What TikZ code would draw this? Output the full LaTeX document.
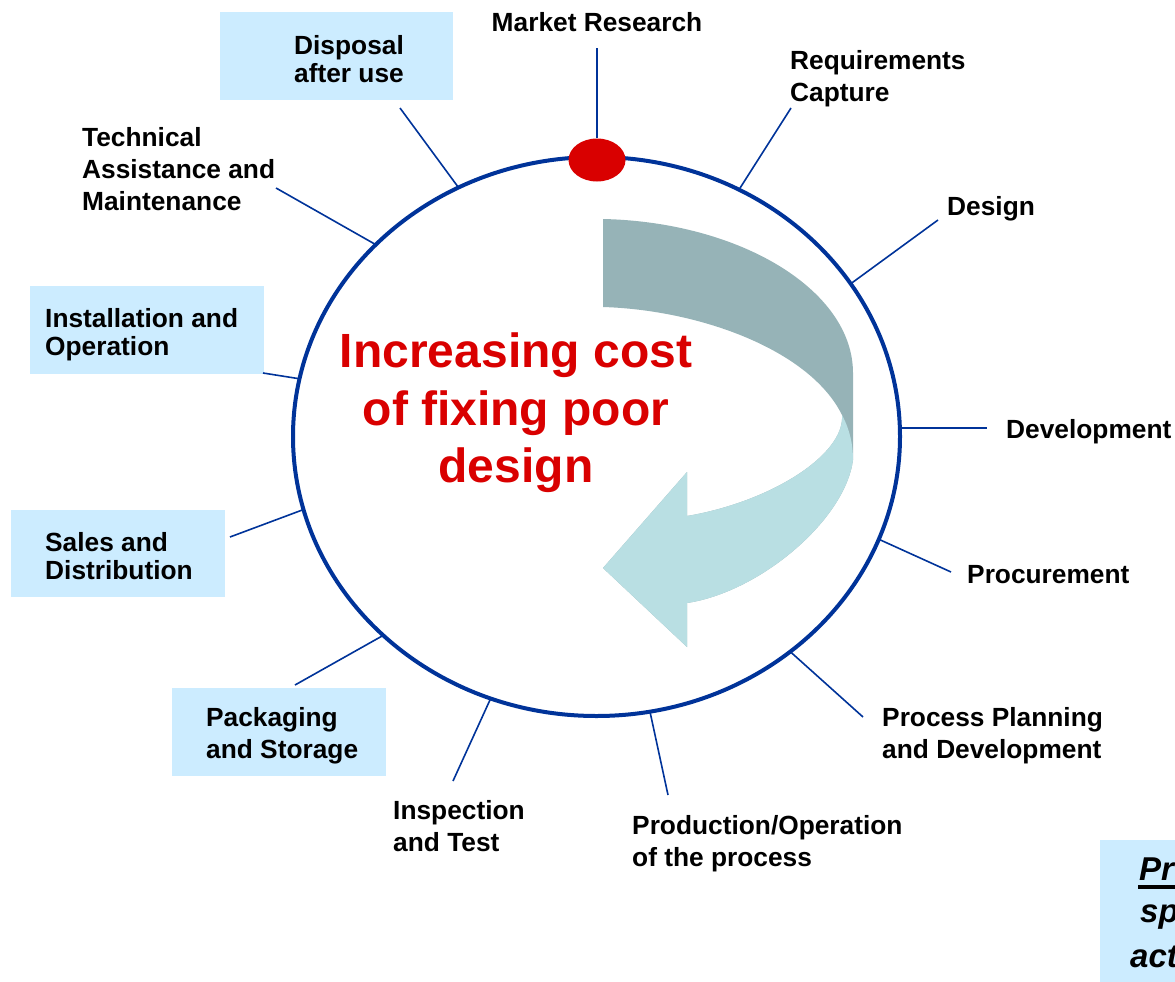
\documentclass[tikz,border=0pt]{standalone}
\usepackage{fontspec}
\setmainfont{Liberation Sans}
\usetikzlibrary{shapes.geometric}

\definecolor{ringblue}{RGB}{0,51,153}
\definecolor{costred}{RGB}{217,0,0}
\definecolor{boxblue}{RGB}{204,236,255}
\definecolor{arrowdark}{RGB}{150,179,183}
\definecolor{arrowlight}{RGB}{185,223,227}

\begin{document}
\begin{tikzpicture}[x=1pt, y=-1pt,
    stage/.style={anchor=north west, inner sep=0pt, align=left, font=\bfseries\fontsize{26.3}{32}\selectfont},
    tight/.style={font=\bfseries\fontsize{26.3}{28.5}\selectfont},
    stagebox/.style={fill=boxblue},
    spoke/.style={draw=ringblue, line width=1.6pt},
    note/.style={anchor=base west, inner sep=0pt, font=\bfseries\itshape\fontsize{33}{44}\selectfont}]
\useasboundingbox (0,0) rectangle (1175,982);
\clip (0,0) rectangle (1175,982);

% curved arrow: back half, then the front half over it
\fill[arrowdark] (603,219) .. controls (740,222) and (853,290) .. (853,373) -- (853,460)
    .. controls (845,520) and (760,592) .. (687,603) -- (687,647) -- (603,568) -- (687,472) -- (687,516)
    .. controls (770,502) and (845,455) .. (842,415) .. controls (810,350) and (700,310) .. (603,307) -- cycle;
\fill[arrowlight] (842,415) .. controls (850,430) and (853,445) .. (853,460)
    .. controls (845,520) and (760,592) .. (687,603) -- (687,647) -- (603,568) -- (687,472) -- (687,516)
    .. controls (770,502) and (845,455) .. (842,415) -- cycle;

\node[draw=ringblue, line width=4pt, ellipse, minimum width=607pt, minimum height=559pt, inner sep=0pt, outer sep=0pt] (ring) at (596.5,436.5) {};
\node[fill=costred, ellipse, minimum width=57pt, minimum height=43pt, inner sep=0pt] (dot) at (597,160) {};

\node[font=\bfseries\fontsize{48}{57.5}\selectfont, text=costred, align=center, anchor=north, inner sep=0pt] (cost) at (516,333) {Increasing cost\\of fixing poor\\design};

% shaded boxes
\fill[stagebox] (220,12) rectangle (453,100);
\fill[stagebox] (30,286) rectangle (264,374);
\fill[stagebox] (11,510) rectangle (225,597);
\fill[stagebox] (172,688) rectangle (386,776);
\fill[stagebox] (1100,840) rectangle (1180,990);

% stages round the loop
\node[stage, anchor=north] (mr) at (597,12) {Market Research};
\node[stage] (req) at (790,50) {Requirements\\Capture};
\node[stage] (des) at (947,196) {Design};
\node[stage] (dev) at (1006,419) {Development};
\node[stage] (proc) at (967,565) {Procurement};
\node[stage] (plan) at (882,707) {Process Planning\\and Development};
\node[stage] (prod) at (632,815) {Production/Operation\\of the process};
\node[stage] (insp) at (393,800) {Inspection\\and Test};
\node[stage] (pack) at (206,707) {Packaging\\and Storage};
\node[stage, tight] (sales) at (45,532) {Sales and\\Distribution};
\node[stage, tight] (inst) at (45,308) {Installation and\\Operation};
\node[stage] (tech) at (82,127) {Technical\\Assistance and\\Maintenance};
\node[stage, tight, anchor=north, align=center] (disp) at (349,35) {Disposal\\after use};

\coordinate (mrEnd) at (597,48);
\coordinate (reqEnd) at (791,108);
\coordinate (desEnd) at (938,220);
\coordinate (devEnd) at (987,428);
\coordinate (procEnd) at (951,572);
\coordinate (planEnd) at (863,717);
\coordinate (prodEnd) at (668,795);
\coordinate (inspEnd) at (453,781);
\coordinate (packEnd) at (295,685);
\coordinate (salesEnd) at (230,537);
\coordinate (instEnd) at (263,373);
\coordinate (techEnd) at (276,188);
\coordinate (dispEnd) at (400,108);

\draw[spoke] (dot.north) -- (mrEnd);
\draw[spoke] (ring.60) -- (reqEnd);
\draw[spoke] (ring.31) -- (desEnd);
\draw[spoke] (devEnd -| ring.east) -- (devEnd);
\draw[spoke] (ring.-20) -- (procEnd);
\draw[spoke] (ring.-48) -- (planEnd);
\draw[spoke] (ring.-79) -- (prodEnd);
\draw[spoke] (ring.-112) -- (inspEnd);
\draw[spoke] (ring.-137) -- (packEnd);
\draw[spoke] (ring.-166) -- (salesEnd);
\draw[spoke] (ring.169) -- (instEnd);
\draw[spoke] (ring.139) -- (techEnd);
\draw[spoke] (ring.119) -- (dispEnd);

% note at the lower right
\node[note] (pr) at (1139,880) {Pr};
\node[note] (sp) at (1140,922) {sp};
\node[note] (act) at (1130,967) {act};
\draw[line width=3.5pt] (1138,887) -- (1180,887);

\end{tikzpicture}
\end{document}
